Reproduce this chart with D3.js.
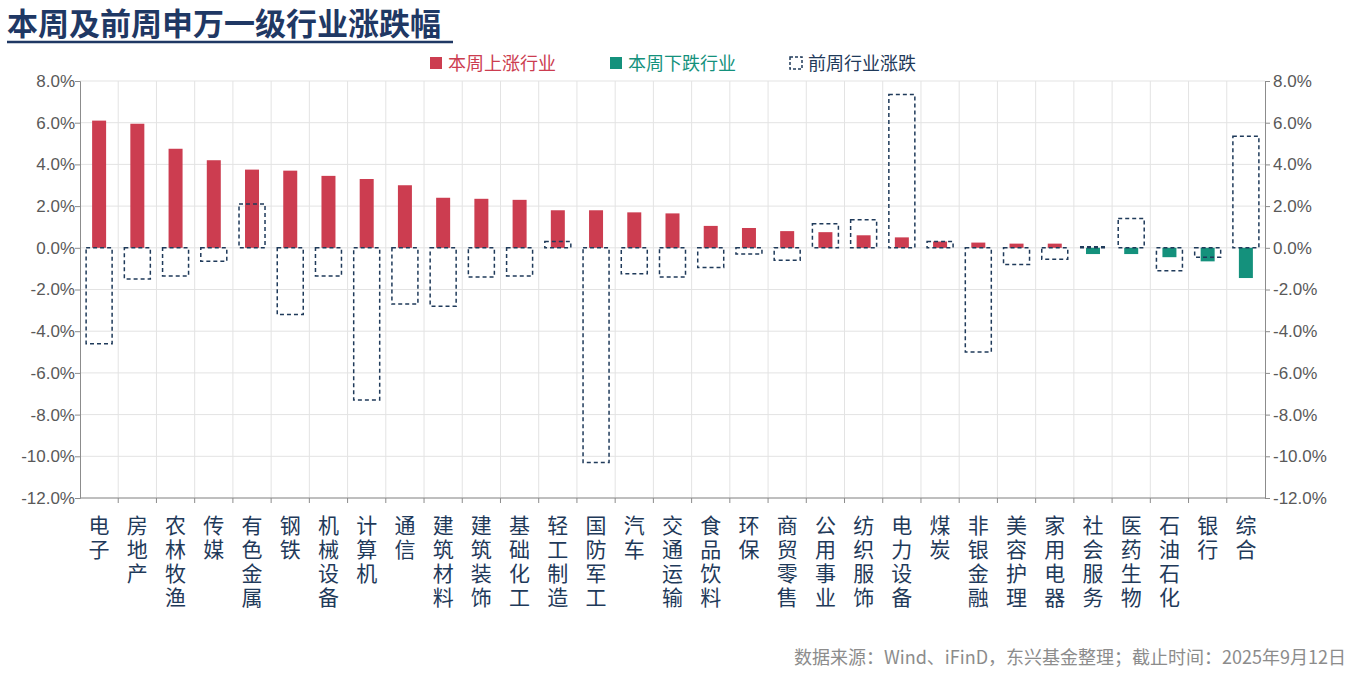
<!DOCTYPE html>
<html><head><meta charset="utf-8">
<script src="https://cdn.jsdelivr.net/npm/d3@7"></script>
<style>body{margin:0;background:#fff;font-family:"Noto Sans CJK SC","Noto Sans",sans-serif;}</style>
</head><body><svg id="c" width="1356" height="679"></svg>
<script>
const categories = ["电子","房地产","农林牧渔","传媒","有色金属","钢铁","机械设备","计算机","通信","建筑材料","建筑装饰","基础化工","轻工制造","国防军工","汽车","交通运输","食品饮料","环保","商贸零售","公用事业","纺织服饰","电力设备","煤炭","非银金融","美容护理","家用电器","社会服务","医药生物","石油石化","银行","综合"];
const thisWeek = [6.1,5.95,4.75,4.2,3.75,3.7,3.45,3.3,3.0,2.4,2.35,2.3,1.8,1.8,1.7,1.65,1.05,0.95,0.8,0.75,0.6,0.5,0.3,0.25,0.2,0.2,-0.3,-0.3,-0.45,-0.65,-1.45];
const lastWeek = [-4.6,-1.5,-1.35,-0.65,2.1,-3.2,-1.35,-7.3,-2.7,-2.8,-1.4,-1.35,0.3,-10.3,-1.25,-1.4,-0.95,-0.3,-0.6,1.15,1.35,7.35,0.3,-5.0,-0.8,-0.55,0.05,1.4,-1.1,-0.45,5.35];
const yTicks = [8,6,4,2,0,-2,-4,-6,-8,-10,-12];

const svg = d3.select("#c");
const L = 80, R = 1265, T = 81, B = 498;
const x = d3.scaleBand().domain(categories).range([L, R]);
const y = d3.scaleLinear().domain([-12, 8]).range([B, T]);
const red = "#cc3d50", teal = "#14917c", navy = "#1f3a5a";

// title
svg.append("text").attr("x", 7).attr("y", 35).attr("font-size", 31).attr("font-weight", "bold")
  .attr("fill", "#1f3864").text("本周及前周申万一级行业涨跌幅");
svg.append("line").attr("x1", 7).attr("x2", 453).attr("y1", 42).attr("y2", 42).attr("stroke", "#1f3864").attr("stroke-width", 2.5);

// grid
svg.append("g").selectAll("line").data(yTicks).join("line")
  .attr("x1", L).attr("x2", R).attr("y1", d => y(d)).attr("y2", d => y(d))
  .attr("stroke", "#e3e3e3");
svg.append("g").selectAll("line").data(categories.slice(1)).join("line")
  .attr("x1", d => x(d)).attr("x2", d => x(d)).attr("y1", T).attr("y2", B)
  .attr("stroke", "#e3e3e3");

// axes
const fmt = d => d.toFixed(1) + "%";
const ga = svg.append("g").attr("transform", `translate(${L},0)`)
  .call(d3.axisLeft(y).tickValues(yTicks).tickFormat(fmt).tickSize(5));
const gb = svg.append("g").attr("transform", `translate(${R},0)`)
  .call(d3.axisRight(y).tickValues(yTicks).tickFormat(fmt).tickSize(5));
[ga, gb].forEach(g => {
  g.selectAll("path,line").attr("stroke", "#8c8c8c");
  g.selectAll("text").attr("font-size", 17).attr("fill", "#595959").attr("font-family", "Liberation Sans, Arial");
});
ga.selectAll("text").attr("x", -5);
gb.selectAll("text").attr("x", 8);
svg.append("line").attr("x1", L).attr("x2", R).attr("y1", B).attr("y2", B).attr("stroke", "#8c8c8c");
svg.append("g").selectAll("line").data(categories.slice(1)).join("line")
  .attr("x1", d => x(d)).attr("x2", d => x(d)).attr("y1", B).attr("y2", B + 5).attr("stroke", "#8c8c8c");

// bars
const bw = 14;
svg.append("g").selectAll("rect").data(thisWeek).join("rect")
  .attr("x", (d, i) => x(categories[i]) + x.bandwidth() / 2 - bw / 2)
  .attr("width", bw)
  .attr("y", d => y(Math.max(0, d)))
  .attr("height", d => Math.abs(y(d) - y(0)))
  .attr("fill", d => d >= 0 ? red : teal);

const dw = 26;
svg.append("g").selectAll("rect").data(lastWeek).join("rect")
  .attr("x", (d, i) => x(categories[i]) + x.bandwidth() / 2 - dw / 2)
  .attr("width", dw)
  .attr("y", d => y(Math.max(0, d)))
  .attr("height", d => Math.abs(y(d) - y(0)))
  .attr("fill", "none").attr("stroke", navy).attr("stroke-width", 1.5).attr("stroke-dasharray", "4,3");

// category labels, one character per text, stacked
const chars = categories.flatMap(c => [...c].map((ch, k) => ({ c, ch, k })));
svg.append("g").selectAll("text").data(chars).join("text")
  .attr("font-size", 21).attr("fill", navy).attr("text-anchor", "middle")
  .attr("x", d => x(d.c) + x.bandwidth() / 2)
  .attr("y", d => 533 + d.k * 24)
  .text(d => d.ch);

// legend
const lg = svg.append("g").attr("font-size", 18);
lg.append("rect").attr("x", 430).attr("y", 57).attr("width", 12).attr("height", 12).attr("fill", red);
lg.append("text").attr("x", 448).attr("y", 70).attr("fill", red).text("本周上涨行业");
lg.append("rect").attr("x", 610).attr("y", 57).attr("width", 12).attr("height", 12).attr("fill", teal);
lg.append("text").attr("x", 628).attr("y", 70).attr("fill", teal).text("本周下跌行业");
lg.append("rect").attr("x", 790).attr("y", 57).attr("width", 12).attr("height", 12).attr("fill", "none")
  .attr("stroke", navy).attr("stroke-width", 1.5).attr("stroke-dasharray", "3,2");
lg.append("text").attr("x", 808).attr("y", 70).attr("fill", navy).text("前周行业涨跌");

// footer
svg.append("text").attr("x", 1346).attr("y", 664).attr("text-anchor", "end").attr("font-size", 18)
  .attr("fill", "#8c8c8c").text("数据来源：Wind、iFinD，东兴基金整理；截止时间：2025年9月12日");
</script></body></html>
